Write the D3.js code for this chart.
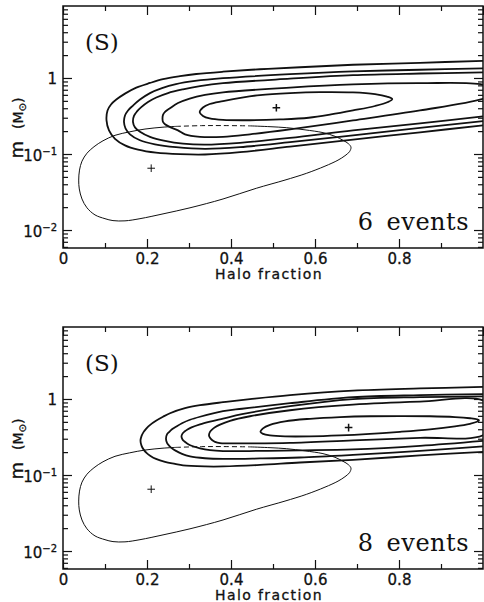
<!DOCTYPE html>
<html>
<head>
<meta charset="utf-8">
<script src="https://cdn.jsdelivr.net/npm/d3@7"></script>
<style>
  body { margin: 0; background: #fff; }
  svg { display: block; }
</style>
</head>
<body>
<svg id="chart" width="484" height="602"></svg>
<script>
// halo fraction vs lens mass, likelihood contours for 6 and 8 events

const xTicks = [0, 0.2, 0.4, 0.6, 0.8];
const xMinor = [0.1, 0.3, 0.5, 0.7, 0.9];
const yMajor = [0.01, 0.1, 1];
const yTickBase = ["10", "10", "1"];
const yTickExp = ["\u22122", "\u22121", ""];
const yDomain = [0.0058, 8.85];

const panelLabels = ["6 events", "8 events"];
const priorBest = [0.21, 0.065];
const best6 = [0.508, 0.405];
const best8 = [0.68, 0.42];

// thin contour (same in both panels), solid part + dashed part
const thinSolid = [[0.4452,0.2344],[0.4929,0.2288],[0.5317,0.222],[0.5762,0.2078],[0.619,0.191],
  [0.6476,0.1709],[0.6667,0.1515],[0.6798,0.1364],[0.6857,0.1227],[0.6821,0.1071],[0.6714,0.095],
  [0.6548,0.083],[0.6238,0.0692],[0.5793,0.0556],[0.5286,0.0454],[0.4602,0.0354],[0.381,0.0256],
  [0.3024,0.0196],[0.2381,0.0163],[0.1833,0.0141],[0.1476,0.0132],[0.119,0.0133],[0.1,0.0141],
  [0.0762,0.0158],[0.0571,0.0196],[0.0452,0.0256],[0.0388,0.0347],[0.0374,0.0454],[0.0393,0.0614],
  [0.0452,0.0805],[0.0571,0.1024],[0.0738,0.1246],[0.0952,0.1492],[0.1238,0.1761],[0.1588,0.1957],
  [0.1952,0.2129],[0.2381,0.2254],[0.269,0.2309]];
const thinDashed = [[0.269,0.2309],[0.33,0.236],[0.381,0.2365],[0.4452,0.2344]];

// 6 events: contours that run out through the right edge
const open6 = [
  [[1.0,0.238],[0.85,0.193],[0.6905,0.155],[0.5405,0.125],[0.4214,0.1056],[0.3381,0.0985],
   [0.2786,0.0994],[0.2214,0.104],[0.1786,0.114],[0.1476,0.13],[0.1238,0.1585],[0.1095,0.205],
   [0.1036,0.2765],[0.106,0.374],[0.1143,0.448],[0.1269,0.52],[0.1476,0.623],[0.1745,0.747],
   [0.2071,0.86],[0.2381,0.964],[0.2786,1.056],[0.3174,1.128],[0.381,1.209],[0.469,1.303],
   [0.5643,1.384],[0.6905,1.492],[0.85,1.585],[1.0,1.683]],
  [[1.0,0.271],[0.85,0.221],[0.6905,0.176],[0.5405,0.143],[0.4214,0.123],[0.3381,0.117],
   [0.269,0.123],[0.219,0.134],[0.1833,0.1515],[0.1595,0.1815],[0.1488,0.2175],[0.1452,0.263],
   [0.1476,0.321],[0.1548,0.374],[0.1667,0.434],[0.1833,0.52],[0.2071,0.633],[0.2357,0.736],
   [0.269,0.83],[0.3143,0.914],[0.381,0.994],[0.5405,1.121],[0.6905,1.22],[0.85,1.284],[1.0,1.335]],
  [[1.0,0.312],[0.85,0.253],[0.6905,0.205],[0.5405,0.163],[0.4214,0.1405],[0.3381,0.133],
   [0.2857,0.137],[0.2429,0.149],[0.2071,0.168],[0.1833,0.196],[0.1714,0.224],[0.1667,0.263],
   [0.169,0.317],[0.1762,0.363],[0.1864,0.413],[0.2024,0.483],[0.2221,0.553],[0.25,0.633],
   [0.2857,0.708],[0.3262,0.781],[0.381,0.855],[0.5405,0.979],[0.6905,1.088],[0.85,1.145],[1.0,1.184]]
];
const closed6 = [
  [[1.0,0.531],[0.85,0.374],[0.6905,0.2765],[0.5405,0.211],[0.4452,0.1815],[0.381,0.168],
   [0.3262,0.168],[0.2905,0.1815],[0.2738,0.2047],[0.254,0.2274],[0.2429,0.2467],[0.2381,0.2644],
   [0.2369,0.291],[0.2381,0.3264],[0.2429,0.357],[0.254,0.397],[0.2738,0.4684],[0.3017,0.536],
   [0.3381,0.599],[0.381,0.648],[0.5405,0.747],[0.6905,0.822],[0.85,0.855],[1.0,0.8175],[1.0405,0.662]],
  [[0.3255,0.355],[0.3333,0.409],[0.3493,0.4545],[0.381,0.497],[0.4262,0.553],[0.469,0.596],
   [0.5405,0.633],[0.6119,0.652],[0.6905,0.646],[0.7429,0.614],[0.7714,0.569],[0.784,0.528],
   [0.7738,0.483],[0.7429,0.428],[0.6905,0.374],[0.6381,0.331],[0.585,0.3],[0.5167,0.285],
   [0.4452,0.278],[0.381,0.281],[0.3493,0.294],[0.3333,0.317]]
];

// 8 events
const open8 = [
  [[1.0,0.201],[0.85,0.181],[0.6905,0.158],[0.5643,0.146],[0.469,0.1355],[0.381,0.1295],
   [0.3381,0.1295],[0.2857,0.1335],[0.2667,0.1397],[0.2429,0.1485],[0.2214,0.1627],[0.2083,0.1782],
   [0.1988,0.1952],[0.1917,0.2173],[0.1869,0.2438],[0.1845,0.2813],[0.1869,0.3245],[0.1917,0.3665],
   [0.1988,0.4113],[0.2083,0.4604],[0.2214,0.5168],[0.2381,0.5838],[0.2548,0.6491],[0.2905,0.756],
   [0.3262,0.828],[0.381,0.907],[0.4452,0.994],[0.5405,1.122],[0.6905,1.287],[0.85,1.376],[1.0,1.441]],
  [[1.0,0.238],[0.85,0.2075],[0.6905,0.184],[0.5643,0.17],[0.469,0.165],[0.381,0.1627],
   [0.3381,0.1662],[0.3024,0.1755],[0.2833,0.1894],[0.269,0.2075],[0.2595,0.2239],[0.2524,0.2438],
   [0.2476,0.2647],[0.2452,0.2989],[0.2476,0.3418],[0.2524,0.3665],[0.2595,0.3991],[0.269,0.4305],
   [0.2833,0.4791],[0.3024,0.5328],[0.3262,0.5838],[0.381,0.6899],[0.4262,0.744],[0.5405,0.88],
   [0.6905,1.056],[0.85,1.122],[1.0,1.157]],
  [[1.0,0.281],[0.85,0.2416],[0.6905,0.217],[0.5643,0.211],[0.469,0.2075],[0.381,0.2063],
   [0.35,0.212],[0.3262,0.2239],[0.306,0.2424],[0.2964,0.2583],[0.2893,0.2754],[0.2845,0.2935],
   [0.2821,0.3206],[0.2845,0.3501],[0.2893,0.3733],[0.2964,0.3978],[0.306,0.4241],[0.3262,0.4648],
   [0.35,0.5045],[0.381,0.5526],[0.4262,0.6302],[0.5405,0.803],[0.6905,0.994],[0.85,1.056],[1.0,1.082]]
];
const closed8 = [
  [[1.0,0.3324],[0.85,0.3082],[0.6905,0.2856],[0.5405,0.2647],[0.4452,0.2607],[0.3976,0.2607],
   [0.3738,0.2622],[0.3619,0.2728],[0.3548,0.2882],[0.35,0.3082],[0.3476,0.3324],[0.35,0.3698],
   [0.3548,0.3955],[0.3619,0.4241],[0.3738,0.4604],[0.3976,0.5168],[0.4452,0.5926],[0.5405,0.7112],
   [0.6905,0.8407],[0.85,0.921],[1.0,0.958],[1.0405,0.566]],
  [[0.4702,0.3698],[0.4762,0.4113],[0.4929,0.4575],[0.5286,0.509],[0.5881,0.549],[0.6595,0.578],
   [0.731,0.593],[0.8024,0.596],[0.8738,0.593],[0.9333,0.578],[0.969,0.558],[0.9857,0.541],
   [0.9905,0.525],[0.9857,0.501],[0.969,0.472],[0.9333,0.437],[0.8738,0.399],[0.8024,0.37],
   [0.731,0.348],[0.6595,0.332],[0.5881,0.3225],[0.5286,0.3225],[0.4929,0.332],[0.4762,0.348]]
];

const svg = d3.select("#chart");
const ink = "#111";
const xScale = d3.scaleLinear().domain([0, 1]).range([63, 483]);

drawPanel(0, 6, open6, closed6, best6, panelLabels[0]);
drawPanel(1, 327, open8, closed8, best8, panelLabels[1]);

function drawPanel(idx, top, openC, closedC, best, label) {
    let bottom = top + 242;
    let y = d3.scaleLog().domain(yDomain).range([bottom, top]);
    let g = svg.append("g");

    g.append("clipPath").attr("id", "clip" + idx)
        .append("rect")
        .attr("x", 63).attr("y", top)
        .attr("width", 420).attr("height", 242);
    let plot = g.append("g").attr("clip-path", "url(#clip" + idx + ")");

    let lineOpen = d3.line()
        .x(function (d) { return xScale(d[0]) })
        .y(function (d) { return y(d[1]) })
        .curve(d3.curveCatmullRom.alpha(0.5));
    let lineClosed = d3.line()
        .x(function (d) { return xScale(d[0]) })
        .y(function (d) { return y(d[1]) })
        .curve(d3.curveCatmullRomClosed.alpha(0.5));

    plot.append("path").attr("d", lineOpen(thinSolid))
        .attr("fill", "none").attr("stroke", ink).attr("stroke-width", 1);
    plot.append("path").attr("d", lineOpen(thinDashed))
        .attr("fill", "none").attr("stroke", ink).attr("stroke-width", 1)
        .attr("stroke-dasharray", "5,3");

    plot.selectAll("path.open")
        .data(openC)
        .enter()
        .append("path")
        .attr("class", "open")
        .attr("d", lineOpen)
        .attr("fill", "none").attr("stroke", ink).attr("stroke-width", 1.8);
    plot.selectAll("path.closed")
        .data(closedC)
        .enter()
        .append("path")
        .attr("class", "closed")
        .attr("d", lineClosed)
        .attr("fill", "none").attr("stroke", ink).attr("stroke-width", 1.8);

    // best-fit crosses
    [[best, 1.5], [priorBest, 1]].forEach(function (p) {
        let cx = xScale(p[0][0]), cy = y(p[0][1]), s = 3.8;
        plot.append("path")
            .attr("d", "M" + (cx - s) + "," + cy + "H" + (cx + s) + "M" + cx + "," + (cy - s) + "V" + (cy + s))
            .attr("stroke", ink).attr("stroke-width", p[1]);
    });

    // axes, ticks pointing inward
    let yMinor = [];
    [-3, -2, -1, 0].forEach(function (e) {
        d3.range(2, 10).forEach(function (k) {
            let v = k * Math.pow(10, e);
            if (v > yDomain[0] && v < yDomain[1]) yMinor.push(v);
        });
    });

    let axes = [
        [d3.axisBottom(xScale).tickValues(xTicks).tickSizeInner(-9), "translate(0," + bottom + ")", true],
        [d3.axisBottom(xScale).tickValues(xMinor).tickSizeInner(-5), "translate(0," + bottom + ")", false],
        [d3.axisTop(xScale).tickValues(xTicks.concat([1])).tickSizeInner(-9), "translate(0," + top + ")", false],
        [d3.axisTop(xScale).tickValues(xMinor).tickSizeInner(-5), "translate(0," + top + ")", false],
        [d3.axisLeft(y).tickValues(yMajor).tickSizeInner(-9), "translate(63,0)", false],
        [d3.axisLeft(y).tickValues(yMinor).tickSizeInner(-5), "translate(63,0)", false],
        [d3.axisRight(y).tickValues(yMajor).tickSizeInner(-9), "translate(483,0)", false],
        [d3.axisRight(y).tickValues(yMinor).tickSizeInner(-5), "translate(483,0)", false]
    ];
    axes.forEach(function (a) {
        let ax = a[0].tickSizeOuter(0).tickPadding(5);
        if (a[2]) ax.tickFormat(function (d) { return d === 0 ? "0" : d3.format(".1f")(d) });
        else ax.tickFormat("");
        let ag = g.append("g").attr("transform", a[1]).call(ax);
        ag.select(".domain").remove();
        ag.selectAll("line").attr("stroke", ink).attr("stroke-width", 1.2);
        ag.selectAll("text")
            .attr("font-family", "DejaVu Sans").attr("font-size", 15).attr("fill", ink)
            .attr("stroke", ink).attr("stroke-width", 0.3);
    });

    // y tick labels with powers of ten
    yMajor.forEach(function (v, i) {
        let t = g.append("text")
            .attr("x", 57).attr("y", y(v) + 6.5)
            .attr("text-anchor", "end")
            .attr("font-family", "DejaVu Sans").attr("font-size", 15).attr("fill", ink)
            .attr("stroke", ink).attr("stroke-width", 0.3)
            .text(yTickBase[i]);
        if (yTickExp[i]) {
            t.append("tspan").attr("font-size", 10).attr("dy", -6).text(yTickExp[i]);
        }
    });

    g.append("rect")
        .attr("x", 63).attr("y", top).attr("width", 420).attr("height", 242)
        .attr("fill", "none").attr("stroke", ink).attr("stroke-width", 1.5);

    // axis titles
    g.append("text")
        .attr("x", 269).attr("y", bottom + 31)
        .attr("text-anchor", "middle")
        .attr("font-family", "DejaVu Sans").attr("font-size", 14)
        .attr("letter-spacing", 1.4).attr("fill", ink)
        .attr("stroke", ink).attr("stroke-width", 0.3)
        .text("Halo fraction");

    let yl = g.append("text")
        .attr("transform", "translate(23," + (top + 122) + ") rotate(-90)")
        .attr("text-anchor", "middle")
        .attr("font-family", "DejaVu Sans").attr("fill", ink)
        .attr("stroke", ink).attr("stroke-width", 0.3);
    yl.append("tspan").attr("font-size", 18).text("m");
    yl.append("tspan").attr("font-size", 14).attr("dx", 12).text("(M");
    yl.append("tspan").attr("font-size", 10).attr("dy", 3).text("\u2299");
    yl.append("tspan").attr("font-size", 14).attr("dy", -3).text(")");

    g.append("text")
        .attr("x", 85).attr("y", top + 44)
        .attr("font-family", "DejaVu Serif").attr("font-size", 23).attr("fill", ink)
        .text("(S)");

    g.append("text")
        .attr("x", 469).attr("y", bottom - 18)
        .attr("text-anchor", "end")
        .attr("font-family", "DejaVu Serif").attr("font-size", 24).attr("fill", ink)
        .attr("letter-spacing", 0.5).attr("word-spacing", 5)
        .text(label);
}
</script>
</body>
</html>
